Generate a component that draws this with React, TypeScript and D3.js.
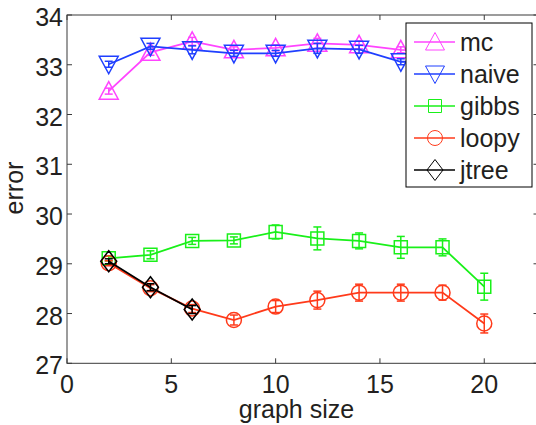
import React from 'react';
import * as d3 from 'd3';

const width = 536, height = 425;
const margin = { top: 15, left: 67, bottom: 363.3, right: 538.5 };

// graph sizes along the x axis
const sizes = [2, 4, 6, 8, 10, 12, 14, 16, 18, 20];
const jtreeSizes = [2, 4, 6];

// mean error per method
const mcValues = [32.47, 33.25, 33.47, 33.3, 33.34, 33.43, 33.4, 33.3, 33.28, 33.25];
const naiveValues = [33.01, 33.37, 33.3, 33.23, 33.23, 33.33, 33.31, 33.06, 33.05, 33.0];
const gibbsValues = [29.11, 29.18, 29.46, 29.47, 29.64, 29.51, 29.46, 29.33, 29.33, 28.54];
const loopyValues = [29.01, 28.51, 28.1, 27.87, 28.14, 28.27, 28.42, 28.42, 28.42, 27.8];
const jtreeValues = [29.05, 28.53, 28.08];

// error bar half-widths
const mcErr = [0.06, 0.06, 0.08, 0.06, 0.06, 0.1, 0.08, 0.06, 0.06, 0.06];
const naiveErr = [0.06, 0.06, 0.08, 0.06, 0.06, 0.1, 0.08, 0.06, 0.06, 0.06];
const gibbsErr = [0.05, 0.08, 0.07, 0.07, 0.14, 0.23, 0.16, 0.22, 0.17, 0.27];
const loopyErr = [0.05, 0.07, 0.08, 0.1, 0.12, 0.18, 0.17, 0.17, 0.15, 0.19];
const jtreeErr = [0.05, 0.07, 0.08];

const xTicks = [0, 5, 10, 15, 20];
const yTicks = [27, 28, 29, 30, 31, 32, 33, 34];

const series = [
    { name: 'mc', color: '#ff44ff', marker: 'up', x: sizes, y: mcValues, e: mcErr },
    { name: 'naive', color: '#1f3fff', marker: 'down', x: sizes, y: naiveValues, e: naiveErr },
    { name: 'gibbs', color: '#19f019', marker: 'square', x: sizes, y: gibbsValues, e: gibbsErr },
    { name: 'loopy', color: '#ff3a1a', marker: 'circle', x: sizes, y: loopyValues, e: loopyErr },
    { name: 'jtree', color: '#000000', marker: 'diamond', x: jtreeSizes, y: jtreeValues, e: jtreeErr },
];

const xScale = d3.scaleLinear().domain([0, 22.6]).range([margin.left, margin.right]);
const yScale = d3.scaleLinear().domain([27, 34]).range([margin.bottom, margin.top]);

const font = '"Liberation Sans", Arial, Helvetica, sans-serif';

function Label({ x, y, anchor = 'middle', size = 25, rotate = 0, children }: any) {
    return (
        <text transform={`translate(${x},${y}) rotate(${rotate})`}
            textAnchor={anchor} fontSize={size} fontFamily={font} fill="#231f20">
            {children}
        </text>
    );
}

// marker path centred at 0,0
function markerPath(kind: string) {
    switch (kind) {
        case 'up': return 'M0,-9.5L9.5,8L-9.5,8Z';
        case 'down': return 'M0,9.5L9.5,-8L-9.5,-8Z';
        case 'square': return 'M-6.5,-6.5H6.5V6.5H-6.5Z';
        case 'diamond': return 'M0,-10.5L8,0L0,10.5L-8,0Z';
        default: return d3.arc()({ innerRadius: 0, outerRadius: 7.5, startAngle: 0, endAngle: 2 * Math.PI }) || '';
    }
}

export default function App() {
    const line = d3.line<[number, number]>()
        .x(d => xScale(d[0]))
        .y(d => yScale(d[1]));

    const legend = { x: 406, y: 23, w: 126, h: 164 };

    return (
        <svg width={width} height={height} style={{ position: 'absolute', left: 0, top: 0, background: '#fff' }}>
            <rect x={0} y={0} width={width} height={height} fill="#fff" />
            {/* frame */}
            <rect x={margin.left} y={margin.top} width={margin.right - margin.left}
                height={margin.bottom - margin.top} fill="none" stroke="#3a3a3a" strokeWidth={1} />
            {xTicks.map(t => (
                <g key={'x' + t}>
                    <line x1={xScale(t)} x2={xScale(t)} y1={margin.bottom} y2={margin.bottom - 5} stroke="#3a3a3a" />
                    <line x1={xScale(t)} x2={xScale(t)} y1={margin.top} y2={margin.top + 5} stroke="#3a3a3a" />
                    <Label x={xScale(t)} y={margin.bottom + 30}>{t}</Label>
                </g>
            ))}
            {yTicks.map(t => (
                <g key={'y' + t}>
                    <line x1={margin.left} x2={margin.left + 5} y1={yScale(t)} y2={yScale(t)} stroke="#3a3a3a" />
                    <line x1={margin.right} x2={margin.right - 5} y1={yScale(t)} y2={yScale(t)} stroke="#3a3a3a" />
                    <Label x={margin.left - 4} y={yScale(t) + 11} anchor="end">{t}</Label>
                </g>
            ))}
            <Label x={(xScale(0) + xScale(22)) / 2} y={418}>graph size</Label>
            <Label x={23} y={188} rotate={-90}>error</Label>

            {series.map(s => {
                const pts = s.x.map((x, i) => [x, s.y[i]] as [number, number]);
                return (
                    <g key={s.name}>
                        <path d={line(pts) || ''} fill="none" stroke={s.color} strokeWidth={1.8} />
                        {pts.map((p, i) => {
                            const cx = xScale(p[0]);
                            const top = yScale(p[1] + s.e[i]);
                            const bot = yScale(p[1] - s.e[i]);
                            return (
                                <g key={i}>
                                    <line x1={cx} x2={cx} y1={top} y2={bot} stroke={s.color} strokeWidth={1.5} />
                                    <line x1={cx - 4} x2={cx + 4} y1={top} y2={top} stroke={s.color} strokeWidth={1.5} />
                                    <line x1={cx - 4} x2={cx + 4} y1={bot} y2={bot} stroke={s.color} strokeWidth={1.5} />
                                    <path d={markerPath(s.marker)} transform={`translate(${cx},${yScale(p[1])})`}
                                        fill="none" stroke={s.color} strokeWidth={1.5} />
                                </g>
                            );
                        })}
                    </g>
                );
            })}

            {/* legend */}
            <rect x={legend.x} y={legend.y} width={legend.w} height={legend.h} fill="#fff" stroke="#000" strokeWidth={1} />
            {series.map((s, i) => {
                const cy = legend.y + 19 + i * 32;
                return (
                    <g key={'l' + s.name}>
                        <line x1={legend.x + 8} x2={legend.x + 49} y1={cy} y2={cy} stroke={s.color} strokeWidth={1.5} />
                        <path d={markerPath(s.marker)} transform={`translate(${legend.x + 29},${cy})`}
                            fill="none" stroke={s.color} strokeWidth={1} />
                        <Label x={legend.x + 54} y={cy + 9} anchor="start">{s.name}</Label>
                    </g>
                );
            })}
        </svg>
    );
}
